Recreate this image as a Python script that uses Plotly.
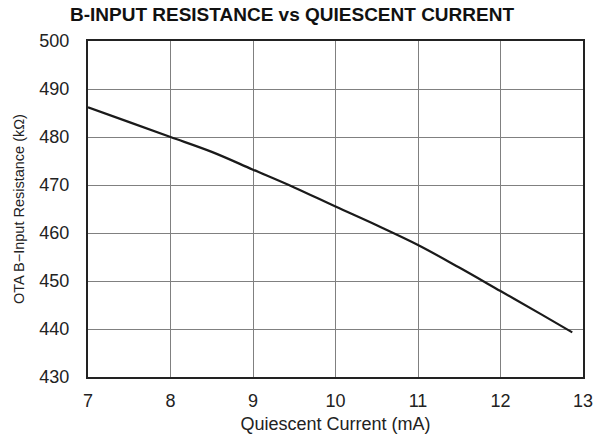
import plotly.graph_objects as go

current_ma = [7.0, 7.5, 8.0, 8.5, 9.0, 9.5, 10.0, 10.5, 11.0, 11.5, 12.0, 12.5, 12.87]
resistance_kohm = [486.2, 483.1, 480.0, 476.9, 473.2, 469.5, 465.5, 461.6, 457.5, 452.8, 447.9, 443.0, 439.3]

x_ticks = [7, 8, 9, 10, 11, 12, 13]
y_ticks = [430, 440, 450, 460, 470, 480, 490, 500]

fig = go.Figure()
fig.add_trace(go.Scatter(x=current_ma, y=resistance_kohm, mode="lines",
                         line=dict(color="#1a1a1a", width=2.2, shape="spline"),
                         showlegend=False, hoverinfo="skip"))

font_family = "Liberation Sans, Arial, sans-serif"
fig.update_layout(
    width=593, height=445,
    margin=dict(l=88, r=10, t=41, b=68, autoexpand=False),
    paper_bgcolor="white", plot_bgcolor="white",
    font=dict(family=font_family, color="#222222"),
    title=dict(text="<b>B-INPUT RESISTANCE vs QUIESCENT CURRENT</b>",
               x=0.4924, xanchor="center", y=0.967, yanchor="middle",
               font=dict(size=19, family=font_family, color="#111111")),
)
fig.update_xaxes(range=[7, 13], tickvals=x_ticks, ticks="", showgrid=True,
                 gridcolor="#808080", gridwidth=1, zeroline=False, automargin=False,
                 showline=True, linecolor="#222222", linewidth=2, mirror=True,
                 tickfont=dict(size=18), ticklabelstandoff=6, ticklabeloverflow="allow",
                 title=dict(text="Quiescent Current (mA)", font=dict(size=18), standoff=8))
fig.update_yaxes(range=[430, 500], tickvals=y_ticks, ticks="", showgrid=True,
                 gridcolor="#808080", gridwidth=1, zeroline=False, automargin=False,
                 showline=True, linecolor="#222222", linewidth=2, mirror=True,
                 tickfont=dict(size=18), ticklabelstandoff=13, ticklabeloverflow="allow",
                 title=dict(text="OTA B\u2212Input Resistance (k\u03a9)", font=dict(size=14.5), standoff=11))

# remove the browser's default body margin so the figure fills the window exactly
fig.write_html("out.html", config={"displayModeBar": False},
               post_script="document.body.style.margin='0';document.body.style.overflow='hidden';")
